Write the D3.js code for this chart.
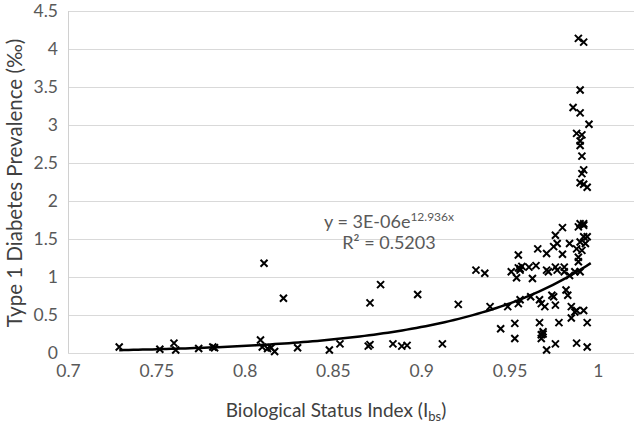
<!DOCTYPE html>
<html>
<head>
<meta charset="utf-8">
<script src="https://cdn.jsdelivr.net/npm/d3@7"></script>
<style>
  html, body { margin: 0; padding: 0; background: #fff; }
  svg { display: block; }
  text { font-family: Lato, "Open Sans", "Liberation Sans", sans-serif; }
</style>
</head>
<body>
<svg id="chart" width="636" height="425"></svg>
<script>
// ---- Data ----
const xValues = [
  0.729, 0.752, 0.760, 0.761, 0.774, 0.782, 0.783, 0.809, 0.810, 0.811,
  0.813, 0.815, 0.817, 0.822, 0.830, 0.848, 0.854, 0.870, 0.871, 0.871,
  0.877, 0.884, 0.889, 0.892, 0.898, 0.912, 0.921, 0.931, 0.936, 0.939,
  0.945, 0.949, 0.951, 0.953, 0.953, 0.954, 0.955, 0.956, 0.956, 0.956,
  0.955, 0.961, 0.963, 0.962, 0.965, 0.966, 0.967, 0.967, 0.968, 0.968,
  0.968, 0.969, 0.970, 0.971, 0.971, 0.971, 0.972, 0.974, 0.975, 0.976,
  0.976, 0.976, 0.977, 0.975, 0.976, 0.977, 0.978, 0.980, 0.980, 0.981,
  0.981, 0.982, 0.983, 0.984, 0.984, 0.985, 0.985, 0.987, 0.987, 0.988,
  0.988, 0.988, 0.989, 0.989, 0.989, 0.990, 0.990, 0.990, 0.991, 0.992,
  0.992, 0.992, 0.993, 0.994, 0.994, 0.994, 0.992, 0.955, 0.957, 0.969,
  0.989, 0.992, 0.990, 0.986, 0.990, 0.995, 0.988, 0.991, 0.990, 0.990,
  0.991, 0.992, 0.991, 0.990, 0.992, 0.994
];
const yValues = [
  0.08, 0.05, 0.13, 0.04, 0.06, 0.08, 0.07, 0.17, 0.08, 1.18,
  0.06, 0.07, 0.02, 0.72, 0.07, 0.04, 0.12, 0.09, 0.11, 0.66,
  0.90, 0.12, 0.09, 0.10, 0.77, 0.12, 0.64, 1.09, 1.05, 0.61,
  0.32, 0.61, 1.07, 0.39, 0.19, 0.99, 1.29, 1.09, 0.70, 1.11,
  0.65, 1.13, 0.98, 0.74, 1.15, 1.37, 0.40, 0.70, 0.65, 0.24,
  0.19, 0.28, 0.61, 1.31, 0.04, 1.09, 1.07, 0.76, 1.40, 0.63,
  1.55, 0.12, 1.44, 0.74, 1.13, 1.09, 0.40, 1.65, 1.30, 1.13,
  1.07, 0.83, 0.76, 1.44, 1.02, 0.46, 0.61, 1.07, 0.54, 1.37,
  0.13, 0.56, 1.20, 1.66, 1.26, 1.46, 1.07, 1.70, 1.35, 1.68,
  1.53, 1.70, 1.44, 0.08, 1.53, 0.40, 0.56, 1.12, 1.14, 0.25,
  4.14, 4.09, 3.46, 3.23, 3.16, 3.01, 2.89, 2.87, 2.79, 2.73,
  2.59, 2.41, 2.36, 2.24, 2.22, 2.18
];
const xTicks = [0.7, 0.75, 0.8, 0.85, 0.9, 0.95, 1];
const xTickLabels = ["0.7", "0.75", "0.8", "0.85", "0.9", "0.95", "1"];
const yTicks = [0, 0.5, 1, 1.5, 2, 2.5, 3, 3.5, 4, 4.5];
const yTickLabels = ["0", "0.5", "1", "1.5", "2", "2.5", "3", "3.5", "4", "4.5"];
const xDomain = [0.7, 1.0205];
const yDomain = [0, 4.5];
// Exponential trendline y = a * e^(b x), as printed on the chart
const trendA = 3e-6;
const trendB = 12.936;
const trendRange = [0.729, 0.996];
const eqMain = "y = 3E-06e";
const eqSup = "12.936x";
const r2Text = "R² = 0.5203";
const xTitle = "Biological Status Index (I";
const xTitleSub = "bs";
const yTitle = "Type 1 Diabetes Prevalence (‰)";

// ---- Layout ----
const plotL = 68, plotR = 634, plotT = 11, plotB = 353;
const svg = d3.select("#chart");
const x = d3.scaleLinear().domain(xDomain).range([plotL, plotR]);
const y = d3.scaleLinear().domain(yDomain).range([plotB, plotT]);

// Gridlines
svg.append("g")
  .selectAll("line").data(yTicks).join("line")
  .attr("x1", plotL).attr("x2", plotR)
  .attr("y1", d => Math.round(y(d)) + 0.5).attr("y2", d => Math.round(y(d)) + 0.5)
  .attr("stroke", "#d9d9d9").attr("stroke-width", 1);

// Left axis line
svg.append("line")
  .attr("x1", plotL + 0.5).attr("x2", plotL + 0.5)
  .attr("y1", plotT).attr("y2", plotB)
  .attr("stroke", "#d0d0d0").attr("stroke-width", 1);

// Y axis labels
const yAxis = d3.axisLeft(y).tickValues(yTicks)
  .tickFormat((d, i) => yTickLabels[i]).tickSize(0).tickPadding(10);
const gy = svg.append("g").attr("transform", `translate(${plotL},0)`).call(yAxis);
gy.select(".domain").remove();
gy.selectAll("text").attr("fill", "#595959").style("font-size", "17.5px")
  .style("font-family", "Lato, 'Open Sans', sans-serif");

// X axis labels
const xAxis = d3.axisBottom(x).tickValues(xTicks)
  .tickFormat((d, i) => xTickLabels[i]).tickSize(0).tickPadding(12);
const gx = svg.append("g").attr("transform", `translate(0,${plotB})`).call(xAxis);
gx.select(".domain").remove();
gx.selectAll("text").attr("fill", "#595959").style("font-size", "17.5px")
  .style("font-family", "Lato, 'Open Sans', sans-serif");

// Trendline
const trendXs = d3.range(0, 101).map(i => trendRange[0] + (trendRange[1] - trendRange[0]) * i / 100);
const line = d3.line().x(d => x(d)).y(d => y(trendA * Math.exp(trendB * d))).curve(d3.curveLinear);
svg.append("path").datum(trendXs)
  .attr("d", line).attr("fill", "none")
  .attr("stroke", "#000").attr("stroke-width", 2.5);

// Markers (x shape)
const pts = xValues.map((v, i) => [v, yValues[i]]);
const s = 3.5;
svg.append("g").selectAll("path").data(pts).join("path")
  .attr("d", d => {
    const cx = x(d[0]), cy = y(d[1]);
    return `M${cx - s},${cy - s}L${cx + s},${cy + s}M${cx - s},${cy + s}L${cx + s},${cy - s}`;
  })
  .attr("stroke", "#000").attr("stroke-width", 2).attr("fill", "none");

// Equation
const eq = svg.append("text").attr("x", 389).attr("y", 228)
  .attr("text-anchor", "middle").attr("fill", "#595959").style("font-size", "18px");
eq.append("tspan").text(eqMain);
eq.append("tspan").attr("dy", -7).style("font-size", "12px").text(eqSup);
svg.append("text").attr("x", 389).attr("y", 249)
  .attr("text-anchor", "middle").attr("fill", "#595959").style("font-size", "18px")
  .text(r2Text);

// Axis titles
const xt = svg.append("text").attr("x", 336).attr("y", 417)
  .attr("text-anchor", "middle").attr("fill", "#404040").style("font-size", "19px");
xt.append("tspan").text(xTitle);
xt.append("tspan").attr("dy", 4).style("font-size", "13px").text(xTitleSub);
xt.append("tspan").attr("dy", -4).text(")");

svg.append("text")
  .attr("transform", "translate(22,183) rotate(-90)")
  .attr("text-anchor", "middle").attr("fill", "#404040").style("font-size", "20.5px")
  .text(yTitle);
</script>
</body>
</html>
